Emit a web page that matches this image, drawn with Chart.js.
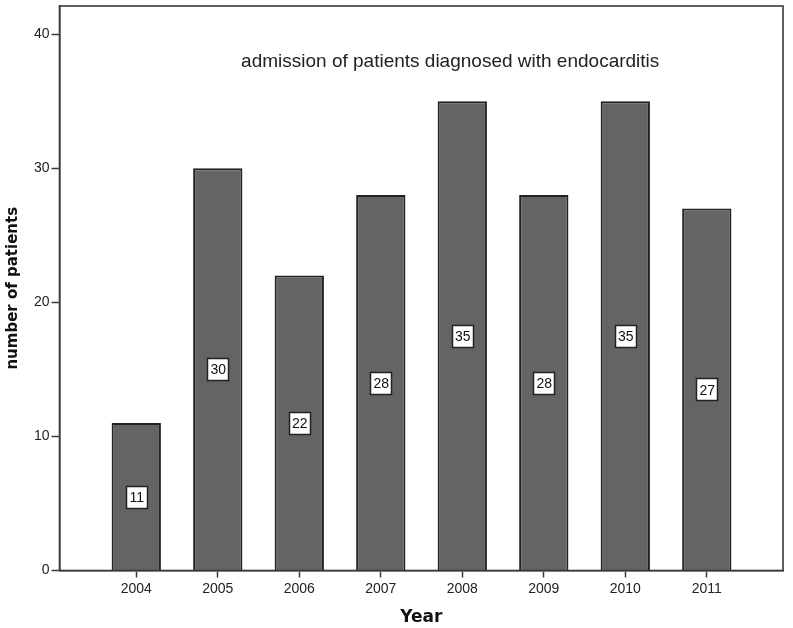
<!DOCTYPE html>
<html>
<head>
<meta charset="utf-8">
<script src="https://cdn.jsdelivr.net/npm/chart.js@4.4.1/dist/chart.umd.min.js"></script>
<style>
  html, body { margin: 0; padding: 0; background: #ffffff; }
  #wrap { width: 793px; height: 628px; }
</style>
</head>
<body>
<div id="wrap"><canvas id="c" width="793" height="628"></canvas></div>
<script>
const years = [2004, 2005, 2006, 2007, 2008, 2009, 2010, 2011];
const patients = [11, 30, 22, 28, 35, 28, 35, 27];
const yTicks = [0, 10, 20, 30, 40];
const chartTitle = 'admission of patients diagnosed with endocarditis';
const xTitle = 'Year';
const yTitle = 'number of patients';

const axisColor = '#3a3a3a';

const frame = {
  id: 'frame',
  afterDatasetsDraw(chart) {
    const ctx = chart.ctx, a = chart.chartArea;
    ctx.save();
    // value boxes
    const meta = chart.getDatasetMeta(0);
    ctx.font = '14px "Liberation Sans", Arial, sans-serif';
    ctx.textAlign = 'center';
    ctx.textBaseline = 'middle';
    meta.data.forEach((el, i) => {
      const cx = el.x, cy = (el.y + el.base) / 2;
      const w = 21, h = 22;
      ctx.fillStyle = '#ffffff';
      ctx.fillRect(Math.round(cx - w / 2) + 0.5, Math.round(cy - h / 2) + 0.5, w, h);
      ctx.strokeStyle = '#222';
      ctx.lineWidth = 1.5;
      ctx.strokeRect(Math.round(cx - w / 2) + 0.5, Math.round(cy - h / 2) + 0.5, w, h);
      ctx.fillStyle = '#111';
      ctx.fillText(String(patients[i]), cx + 0.5, cy + 1.5);
    });
    // frame
    ctx.strokeStyle = axisColor;
    ctx.lineWidth = 1.6;
    ctx.strokeRect(a.left, a.top, a.right - a.left, a.bottom - a.top);
    // in-plot title
    ctx.fillStyle = '#222';
    ctx.font = '19px "Liberation Sans", Arial, sans-serif';
    ctx.textAlign = 'center';
    ctx.textBaseline = 'middle';
    ctx.fillText(chartTitle, a.left + (a.right - a.left) * 0.54, a.top + 56);
    ctx.restore();
  }
};

new Chart(document.getElementById('c'), {
  type: 'bar',
  data: {
    datasets: [{
      data: years.map((y, i) => ({ x: y, y: patients[i] })),
      backgroundColor: '#646464',
      borderColor: '#222222',
      borderWidth: 2,
      barPercentage: 0.605,
      categoryPercentage: 1
    }]
  },
  options: {
    responsive: false,
    animation: false,
    layout: { padding: { top: 6, right: 10, left: 0, bottom: 0 } },
    plugins: { legend: { display: false }, tooltip: { enabled: false }, title: { display: false } },
    scales: {
      x: {
        type: 'linear',
        offset: false,
        min: 2003.058,
        max: 2011.935,
        afterFit(s) { s.height = 57.5; s.paddingLeft = 0; s.paddingRight = 0; },
        grid: { offset: false, drawOnChartArea: false, drawTicks: true, tickLength: 7, tickColor: axisColor, tickWidth: 1.5 },
        border: { display: true, color: axisColor, width: 1.6 },
        ticks: {
          stepSize: 1,
          includeBounds: false,
          autoSkip: false,
          maxRotation: 0,
          padding: 3,
          color: '#222',
          font: { family: '"Liberation Sans", Arial, sans-serif', size: 14 },
          callback: (v) => years.includes(v) ? String(v) : null
        },
        title: {
          display: true,
          text: xTitle,
          color: '#111',
          padding: { top: 1, bottom: 0 },
          font: { family: '"DejaVu Sans", Verdana, sans-serif', size: 17, weight: 'bold' }
        }
      },
      y: {
        min: 0,
        max: 42.1,
        afterFit(s) { s.width = 59.5; s.paddingTop = 0; s.paddingBottom = 0; },
        afterBuildTicks(s) { s.ticks = yTicks.map(v => ({ value: v })); },
        grid: { drawOnChartArea: false, drawTicks: true, tickLength: 8, tickColor: axisColor, tickWidth: 1.5 },
        border: { display: true, color: axisColor, width: 1.6 },
        ticks: {
          padding: 2,
          color: '#222',
          font: { family: '"Liberation Sans", Arial, sans-serif', size: 14 }
        },
        title: {
          display: true,
          text: yTitle,
          color: '#111',
          padding: { top: 4, bottom: 0 },
          font: { family: '"DejaVu Sans", Verdana, sans-serif', size: 15, weight: 'bold' }
        }
      }
    }
  },
  plugins: [frame]
});
</script>
</body>
</html>
